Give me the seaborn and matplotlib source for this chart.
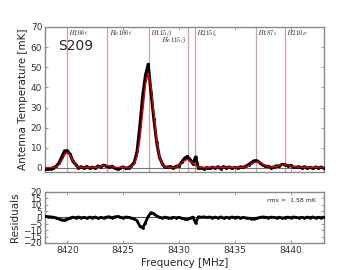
import numpy as np
import pandas as pd
import matplotlib
matplotlib.use("Agg")
import matplotlib.pyplot as plt
import seaborn as sns

# ---- data ----
freq_start = 8418.0
freq_step = 0.25
spectrum = [-0.7, -0.5, -0.3, 0.1, 0.8, 2.5, 5.5, 8.5, 8.6, 6.8,
            3.3, 1.7, 0.1, 0.6, 0.0, 0.7, -0.1, 0.4, -0.2, 1.0,
            0.5, 1.4, 0.9, 0.4, 0.8, -0.1, -0.6, 0.0, 0.5, -0.2,
            0.2, 1.1, 2.8, 8.2, 20.9, 35.7, 46.0, 51.5, 37.3, 24.5,
            12.9, 5.4, 2.2, 0.3, 0.5, 0.7, 0.1, 0.8, 1.1, 3.0,
            4.8, 5.7, 4.2, 2.1, 5.5, -0.1, 0.1, -0.3, 0.2, -0.2,
            0.4, -0.1, 0.6, -0.3, 0.7, 0.0, 0.5, -0.2, 0.3, -0.1,
            0.6, 0.3, 0.9, 1.7, 2.7, 3.6, 3.6, 2.6, 1.5, 0.9,
            0.8, 0.2, 0.4, 1.1, 0.9, 1.8, 1.6, 1.1, 1.3, 0.4,
            0.4, 0.6, 0.1, 0.6, -0.1, 0.3, -0.2, 0.5, 0.0, 0.4,
            -0.1]
model = [0.2, 0.2, 0.2, 0.26, 0.5, 1.5, 3.6, 6.4, 7.7, 6.4,
         3.6, 1.5, 0.5, 0.26, 0.2, 0.2, 0.2, 0.2, 0.2, 0.37,
         0.65, 1.0, 1.2, 1.0, 0.65, 0.37, 0.2, 0.2, 0.2, 0.2,
         0.26, 0.56, 1.8, 5.6, 14.1, 27.5, 41.2, 47.2, 41.2, 27.5,
         14.1, 5.6, 1.8, 0.56, 0.26, 0.2, 0.28, 0.54, 1.2, 2.4,
         3.6, 4.2, 3.6, 2.4, 1.2, 0.54, 0.28, 0.2, 0.2, 0.2,
         0.2, 0.2, 0.2, 0.2, 0.2, 0.2, 0.2, 0.2, 0.2, 0.2,
         0.2, 0.32, 0.58, 1.1, 1.9, 2.7, 3.0, 2.7, 1.9, 1.1,
         0.64, 0.47, 0.52, 0.8, 1.12, 1.4, 1.5, 1.4, 1.12, 0.8,
         0.52, 0.35, 0.26, 0.2, 0.2, 0.2, 0.2, 0.2, 0.2, 0.2,
         0.2]
residuals = [0.9, 0.7, 0.5, 0.2, -0.3, -1.0, -1.9, -2.1, -1.2, -0.4,
             0.3, -0.2, 0.4, -0.3, 0.2, -0.5, 0.3, -0.2, 0.4, -0.6,
             0.1, -0.4, 0.3, 0.6, -0.2, 0.5, 0.8, 0.2, -0.3, 0.4,
             0.1, -0.5, -1.0, -2.6, -6.8, -8.2, -4.0, 0.8, 3.9, 3.0,
             1.2, 0.2, -0.4, 0.3, -0.2, -0.5, 0.2, -0.3, 0.1, -0.6,
             -1.2, -1.5, -0.6, 0.3, -4.3, 0.6, 0.2, 0.5, 0.0, 0.4,
             -0.2, 0.3, -0.4, 0.5, -0.5, 0.2, -0.3, 0.4, -0.1, 0.3,
             -0.4, 0.0, -0.3, -0.6, -0.8, -0.9, -0.5, 0.1, 0.4, 0.2,
             -0.2, 0.3, 0.1, -0.3, 0.2, -0.4, -0.1, 0.3, -0.2, 0.4,
             0.1, -0.3, 0.2, -0.4, 0.3, -0.1, 0.4, -0.3, 0.2, -0.2,
             0.3]
line_names = [r"$H166\epsilon$", r"$He166\epsilon$", r"$H115\beta$", r"$He115\beta$",
              r"$H215\xi$", r"$H187\iota$", r"$H210\nu$"]
line_freqs = [8420.0, 8423.6, 8427.3, 8430.8, 8431.4, 8436.9, 8439.5]
source_name = "S209"
rms_text = "rms =  1.58 mK"
x_ticks = [8420, 8425, 8430, 8435, 8440]
top_yticks = [0, 10, 20, 30, 40, 50, 60, 70]
res_yticks = [-20, -15, -10, -5, 0, 5, 10, 15, 20]

freq = freq_start + freq_step * np.arange(len(spectrum))
df = pd.DataFrame({"freq": freq, "spec": spectrum, "model": model, "resid": residuals})

sns.set_style("ticks")
plt.rcParams["font.family"] = ["DejaVu Sans"]
plt.rcParams["mathtext.fontset"] = "cm"

fig = plt.figure(figsize=(3.6, 2.7), dpi=100)
ax = fig.add_axes([0.125, 0.363, 0.775, 0.537])
axr = fig.add_axes([0.125, 0.10, 0.775, 0.189])

spine_col = "#888888"
for a in (ax, axr):
    for s in a.spines.values():
        s.set_color(spine_col)
        s.set_linewidth(1.0)
    a.tick_params(direction="in", top=True, right=True, length=2.5, width=0.6,
                  colors="#333333", labelsize=6.5, pad=2)
    a.tick_params(axis="both", which="both", color=spine_col)

# vertical lines for recombination lines
for i, (nm, f) in enumerate(zip(line_names, line_freqs)):
    ax.axvline(f, color="#c4a4a4", lw=0.9, zorder=1)
    if nm == r"$He115\beta$":
        ax.text(f - 0.1, 65.5, nm, fontsize=5, ha="right", va="top")
    else:
        ax.text(f + 0.1, 69.3, nm, fontsize=5, ha="left", va="top")

ax.axhline(0, color="#777777", lw=0.8, zorder=1)
sns.lineplot(data=df, x="freq", y="spec", ax=ax, color="black", lw=2.2,
             marker="o", markersize=2.2, markeredgewidth=0, zorder=3)
sns.lineplot(data=df, x="freq", y="model", ax=ax, color="#dd0000", lw=1.0, zorder=4)
ax.text(8419.2, 60.5, source_name, fontsize=10, ha="left", va="center")
ax.set_xlim(8418, 8443)
ax.set_ylim(-2, 70)
ax.set_xticks(x_ticks)
ax.set_xticklabels([])
ax.set_yticks(top_yticks)
ax.set_xlabel("")
ax.set_ylabel("Antenna Temperature [mK]", fontsize=7.5, labelpad=2)

axr.axhline(0, color="#555555", lw=0.8, zorder=1)
sns.lineplot(data=df, x="freq", y="resid", ax=axr, color="black", lw=2.0,
             marker="o", markersize=2.0, markeredgewidth=0, zorder=3)
axr.set_xlim(8418, 8443)
axr.set_ylim(-20, 20)
axr.set_xticks(x_ticks)
axr.set_yticks(res_yticks)
axr.set_xlabel("Frequency [MHz]", fontsize=7.5, labelpad=2)
axr.set_ylabel("Residuals", fontsize=7.5, labelpad=2)
axr.text(0.97, 0.84, rms_text, transform=axr.transAxes, fontsize=4.5,
         ha="right", va="center")

fig.savefig("out.png", dpi=100)
